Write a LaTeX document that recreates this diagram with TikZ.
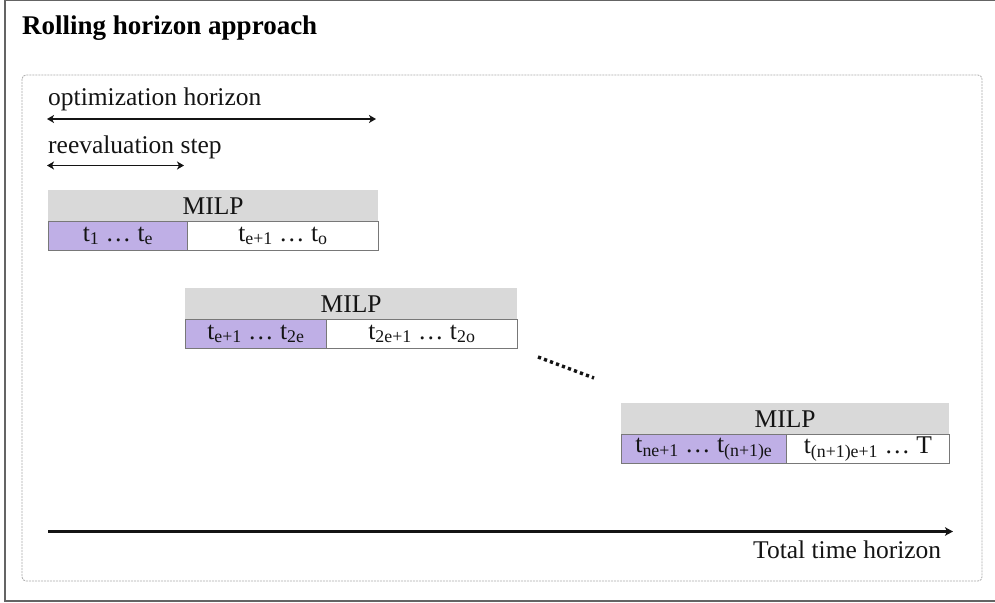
\documentclass[tikz,border=0pt]{standalone}
\usepackage{fontspec}
\setmainfont{Liberation Serif}
\usetikzlibrary{arrows.meta}
\definecolor{hdrgray}{RGB}{217,217,217}
\definecolor{lav}{RGB}{191,175,230}
\definecolor{cellline}{RGB}{120,120,120}
\definecolor{framegray}{RGB}{100,100,100}
\definecolor{dashgray}{RGB}{170,170,170}
\definecolor{ink}{RGB}{20,20,20}
\begin{document}
\begin{tikzpicture}[x=1pt,y=-1pt,
  body/.style={font=\fontsize{25.5}{30}\selectfont, text=ink, inner sep=0pt},
  label/.style={body, anchor=base west},
  hdr/.style={body, fill=hdrgray, anchor=north west, minimum height=31pt},
  lcell/.style={body, fill=lav, draw=cellline, line width=0.8pt, anchor=north west, minimum height=29pt},
  rcell/.style={body, fill=white, draw=cellline, line width=0.8pt, anchor=north west, minimum height=29pt},
  span/.style={{Stealth[length=7pt,width=8pt,inset=2pt]}-{Stealth[length=7pt,width=8pt,inset=2pt]}, line width=1.8pt, draw=ink},
  timeline/.style={-{Stealth[length=8pt,width=8.5pt,inset=2pt]}, line width=2.4pt, draw=ink},
  etc/.style={line width=3.4pt, dash pattern=on 3.2pt off 3.2pt, draw=ink},
]
\useasboundingbox (0,0) rectangle (995,602);
% outer frame
\draw[line width=1.5pt, framegray] (995,0.75) -- (5,0.75) -- (5,601) -- (995,601);
% inner dashed frame
\draw[line width=0.8pt, dashgray, dash pattern=on 2pt off 1pt, rounded corners=4pt] (22,75) rectangle (982,581);
% title
\node[anchor=base west, inner sep=0pt, font=\fontsize{27}{32}\selectfont\bfseries, text=black] (title) at (22,35) {Rolling horizon approach};
% horizon labels and arrows
\node[label] (optlabel) at (48,105.5) {optimization horizon};
\coordinate (optA) at (47,119);
\coordinate (optB) at (376,119);
\draw[span] (optA) -- (optB);
\node[label] (reevlabel) at (48,153.5) {reevaluation step};
\coordinate (reA) at (47,165.5);
\coordinate (reB) at (184,165.5);
\draw[span] (reA) -- (reB);
% MILP 1
\node[hdr, minimum width=330pt] (h1) at (48,190) {MILP};
\node[lcell, minimum width=139pt] (p1) at (48,221) {t\textsubscript{1} … t\textsubscript{e}};
\node[rcell, minimum width=191pt] (w1) at (187,221) {t\textsubscript{e+1} … t\textsubscript{o}};
% MILP 2
\node[hdr, minimum width=332pt] (h2) at (185,288) {MILP};
\node[lcell, minimum width=141pt] (p2) at (185,319) {t\textsubscript{e+1} … t\textsubscript{2e}};
\node[rcell, minimum width=191pt] (w2) at (326,319) {t\textsubscript{2e+1} … t\textsubscript{2o}};
% dots
\coordinate (dotA) at (538,357);
\coordinate (dotB) at (594,378);
\draw[etc] (dotA) -- (dotB);
% MILP 3
\node[hdr, minimum width=328pt] (h3) at (621,403) {MILP};
\node[lcell, minimum width=165pt] (p3) at (621,434) {t\textsubscript{ne+1} … t\textsubscript{(n+1)e}};
\node[rcell, minimum width=163pt] (w3) at (786,434) {t\textsubscript{(n+1)e+1} … T};
% total time horizon
\coordinate (tA) at (48,531.5);
\coordinate (tB) at (953,531.5);
\draw[timeline] (tA) -- (tB);
\node[label] (totlabel) at (753,558) {Total time horizon};
\end{tikzpicture}
\end{document}
